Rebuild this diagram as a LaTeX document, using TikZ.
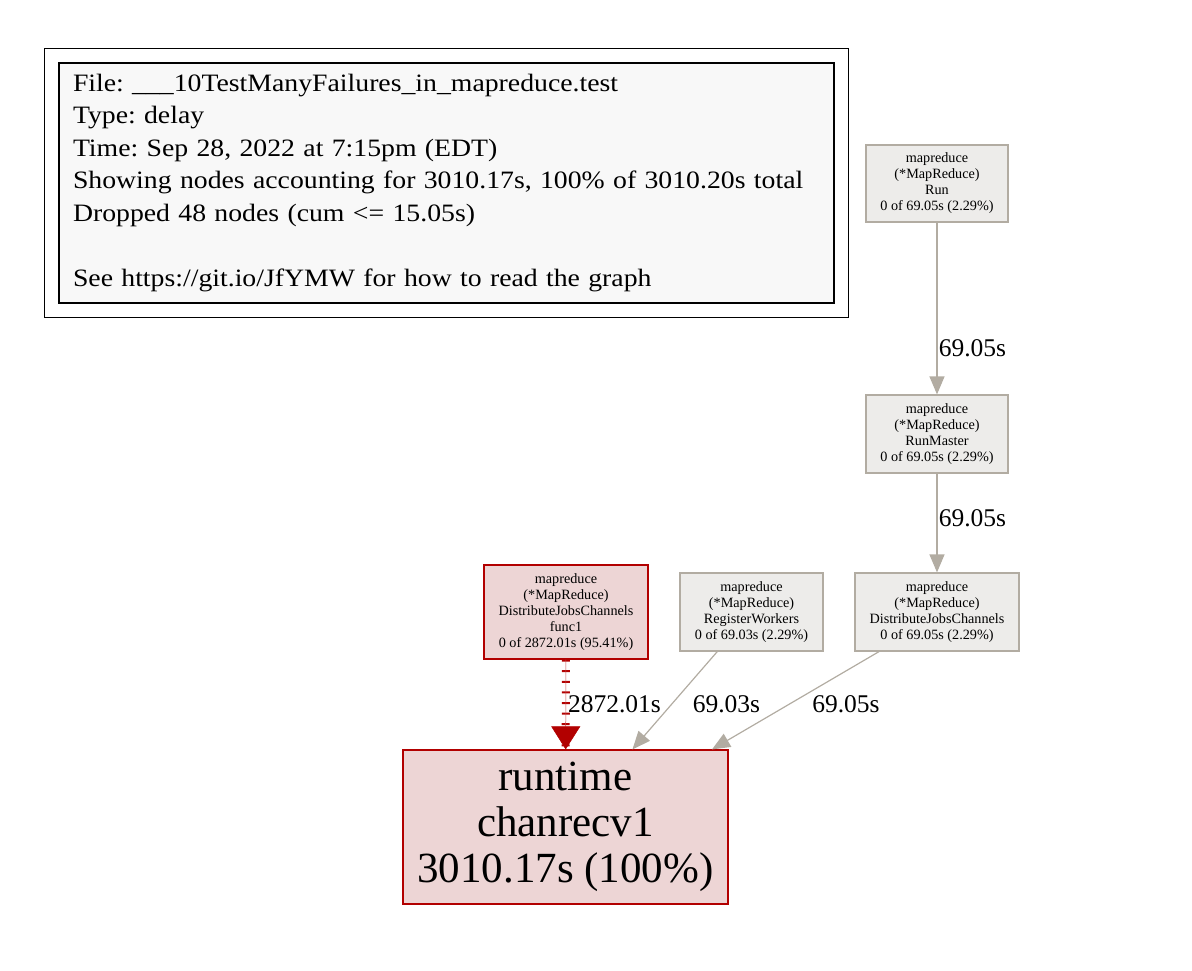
\documentclass[tikz,border=0pt]{standalone}
\usepackage{fontspec}
\setmainfont{Liberation Serif}
\newfontfamily\legendfont[FakeStretch=1.11]{Liberation Serif}
\usepackage{tikz}
\usetikzlibrary{calc,positioning,arrows.meta,fit,shapes}

\definecolor{legendfill}{HTML}{F8F8F8}
\definecolor{coldfill}{HTML}{EDECEA}
\definecolor{colddraw}{HTML}{B2ACA2}
\definecolor{hotfill}{HTML}{EDD5D5}
\definecolor{hotdraw}{HTML}{B20000}

\begin{document}
\frenchspacing
\begin{tikzpicture}[
            x=1pt,y=-1pt,
            fn/.style={draw=colddraw,fill=coldfill,line width=1.2pt,inner sep=0pt,
                align=center,font=\fontsize{14.2}{16}\selectfont},
            hotfn/.style={fn,draw=hotdraw,fill=hotfill},
            lbl/.style={inner sep=0pt,font=\fontsize{25.5}{28}\selectfont},
            edge/.style={draw=colddraw,line width=1.2pt,-{Triangle[length=18pt,width=15pt]}},
            hotedge/.style={draw=hotdraw!70,line width=0.5pt,
                preaction={-,draw=hotdraw,line width=8pt,dash pattern=on 2pt off 8.6pt},
                -{Triangle[length=23pt,width=29pt,color=hotdraw]}}
        ]
            \useasboundingbox (0,0) rectangle (1192,970);

            % legend
            \node[draw,fill=legendfill,line width=1.2pt,minimum width=775pt,minimum height=240pt,
                text width=747pt,align=left,inner sep=0pt,
                font=\legendfont\fontsize{25}{32.5}\selectfont] (legend) at (446.5,183) {%
                File: \_\_\_10TestManyFailures\_in\_mapreduce.test\\
                Type: delay\\
                Time: Sep 28, 2022 at 7:15pm (EDT)\\
                Showing nodes accounting for 3010.17s, 100\% of 3010.20s total\\
                Dropped 48 nodes (cum <= 15.05s)\\[32.5pt]
                See https://git.io/JfYMW for how to read the graph};
            \node[draw,line width=1.2pt,fit=(legend),inner sep=14pt] (frame) {};

            % functions
            \node[fn,minimum width=142pt,minimum height=77pt] (run)    at (937,183.5)
                {mapreduce\\(*MapReduce)\\Run\\0 of 69.05s (2.29\%)};
            \node[fn,minimum width=142pt,minimum height=78pt] (master) at (937,434)
                {mapreduce\\(*MapReduce)\\RunMaster\\0 of 69.05s (2.29\%)};
            \node[fn,minimum width=164pt,minimum height=78pt] (djc)    at (937,612)
                {mapreduce\\(*MapReduce)\\DistributeJobsChannels\\0 of 69.05s (2.29\%)};
            \node[fn,minimum width=143pt,minimum height=78pt] (reg)    at (751.5,612)
                {mapreduce\\(*MapReduce)\\RegisterWorkers\\0 of 69.03s (2.29\%)};
            \node[hotfn,minimum width=164pt,minimum height=94pt] (func1) at (566,612)
                {mapreduce\\(*MapReduce)\\DistributeJobsChannels\\func1\\0 of 2872.01s (95.41\%)};
            \node[hotfn,minimum width=325pt,minimum height=154pt,
                font=\fontsize{43}{46}\selectfont] (chan) at (565.5,827)
                {runtime\\chanrecv1\\3010.17s (100\%)};

            % edge labels
            \node[lbl] (lrun)    at (972.5,348) {69.05s};
            \node[lbl] (lmaster) at (972.5,518) {69.05s};
            \node[lbl] (lfunc1)  at (614.5,704) {2872.01s};
            \node[lbl] (lreg)    at (726.5,704) {69.03s};
            \node[lbl] (ldjc)    at (846,704)   {69.05s};

            \draw[edge] (run) -- (master);
            \draw[edge] (master) -- (djc);
            \draw[edge] ($(djc.south)+(-58,0)$) -- ($(chan.north)+(146.5,0)$);
            \draw[edge] (reg) -- (chan);
            \draw[hotedge] (func1) -- (chan);
        \end{tikzpicture}
\end{document}
